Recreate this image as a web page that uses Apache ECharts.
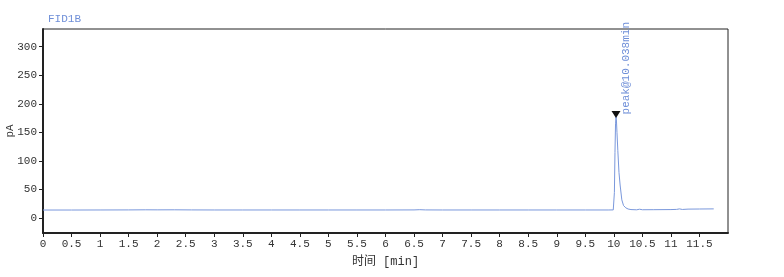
<!DOCTYPE html>
<html><head><meta charset="utf-8">
<script src="https://cdn.jsdelivr.net/npm/echarts@6/dist/echarts.min.js"></script>
<style>html,body{margin:0;padding:0;background:#fff}#c{width:784px;height:277px}</style>
</head><body><div id="c"></div>
<script>
const titleText = 'FID1B';
const yName = 'pA';
const xName = '时间 [min]';
const peakLabel = 'peak@10.038min';
const peakTime = 10.038;
const peakValue = 178;
const times = [0, 0.5, 1, 1.5, 1.8, 2, 2.3, 2.6, 3, 3.5, 4, 4.5, 5, 5.5, 6, 6.5, 6.6, 6.7, 7, 7.5, 8, 8.5, 9, 9.5, 9.9, 9.99,
  10.0, 10.01, 10.02, 10.03, 10.038, 10.045, 10.055, 10.07, 10.09, 10.11, 10.14, 10.17, 10.21, 10.25, 10.3, 10.4, 10.45, 10.5,
  10.7, 11.0, 11.1, 11.15, 11.2, 11.3, 11.5, 11.75];
const signal = [14.2, 14.2, 14.3, 14.4, 14.6, 14.5, 14.6, 14.4, 14.3, 14.3, 14.3, 14.3, 14.3, 14.3, 14.3, 14.4, 14.8, 14.4, 14.3, 14.3, 14.3, 14.3, 14.3, 14.3, 14.3, 14.4,
  16, 45, 115, 165, 178, 172, 150, 118, 80, 58, 32, 22, 18, 16, 15, 14.6, 15.6, 14.7,
  14.8, 15.0, 15.3, 16.2, 15.2, 15.8, 16.0, 16.2];
const yTicks = [0, 50, 100, 150, 200, 250, 300];

const font = "'Liberation Mono', 'Noto Sans CJK SC', monospace";
const chart = echarts.init(document.getElementById('c'), null, {renderer: 'canvas'});
chart.setOption({
  animation: false,
  backgroundColor: '#ffffff',
  title: {text: titleText, left: 43, top: 9, textStyle: {fontFamily: font, fontSize: 11, fontWeight: 'normal', color: '#6f8fd8'}},
  grid: {left: 43, right: 56, top: 29, bottom: 44, containLabel: false, outerBoundsMode: 'none',
    show: true, borderColor: '#222', borderWidth: 1, backgroundColor: '#fff'},
  xAxis: {
    type: 'value', min: 0, max: 12, interval: 0.5,
    name: xName, nameLocation: 'middle', nameGap: 23, nameMoveOverlap: false,
    nameTextStyle: {fontFamily: font, fontSize: 12, color: '#333'},
    axisLine: {show: true, onZero: false, lineStyle: {color: '#222', width: 2}},
    axisTick: {show: true, length: 4, lineStyle: {color: '#222'}},
    axisLabel: {fontFamily: font, fontSize: 11, color: '#333', margin: 6, showMaxLabel: false,
      formatter: v => (v >= 12 ? '' : String(v))},
    splitLine: {show: false}
  },
  yAxis: {
    type: 'value', min: -26, max: 331,
    name: yName, nameLocation: 'middle', nameGap: 27, nameRotate: 90, nameMoveOverlap: false,
    nameTextStyle: {fontFamily: font, fontSize: 11, color: '#333'},
    axisLine: {show: true, onZero: false, lineStyle: {color: '#222', width: 2}},
    axisTick: {show: true, length: 4, customValues: yTicks, lineStyle: {color: '#222'}},
    axisLabel: {fontFamily: font, fontSize: 11, color: '#333', margin: 6, customValues: yTicks},
    splitLine: {show: false}
  },
  series: [{
    type: 'line',
    data: times.map((t, i) => [t, signal[i]]),
    showSymbol: false, symbol: 'none', sampling: 'none',
    lineStyle: {color: '#7a98dc', width: 1},
    markPoint: {
      symbol: 'triangle', symbolSize: [9, 7], symbolRotate: 180, symbolOffset: [0, -2],
      itemStyle: {color: '#111'},
      data: [{coord: [peakTime, peakValue], value: peakLabel}],
      label: {show: true, formatter: peakLabel, rotate: 90, position: 'inside', offset: [0, 10],
        align: 'left', verticalAlign: 'middle', fontFamily: font, fontSize: 11, color: '#6f8fd8'}
    }
  }]
});
</script></body></html>
